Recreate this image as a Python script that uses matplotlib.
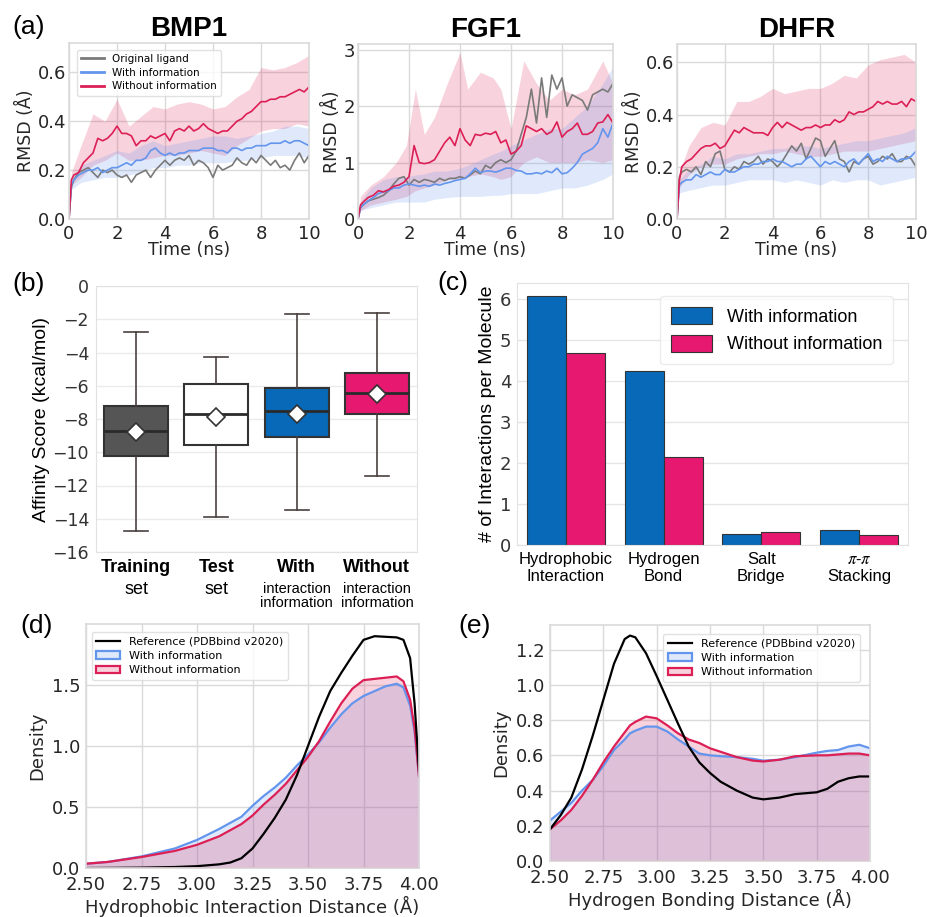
import numpy as np
import matplotlib.pyplot as plt
from matplotlib.patches import Patch
from matplotlib.lines import Line2D

plt.rcParams['mathtext.fontset'] = 'stix'

# ---------------- (a) RMSD trajectories ----------------
t_line = [0.0, 0.1, 0.2, 0.4, 0.6, 0.8, 1.0, 1.2, 1.4, 1.6, 1.8, 2.0, 2.2, 2.4, 2.6, 2.8,
          3.0, 3.2, 3.4, 3.6, 3.8, 4.0, 4.2, 4.4, 4.6, 4.8, 5.0, 5.2, 5.4, 5.6, 5.8, 6.0,
          6.2, 6.4, 6.6, 6.8, 7.0, 7.2, 7.4, 7.6, 7.8, 8.0, 8.2, 8.4, 8.6, 8.8, 9.0, 9.2,
          9.4, 9.6, 9.8, 10.0]
t_band = [0.0, 0.1, 0.5, 1.0, 1.5, 2.0, 2.5, 3.0, 3.5, 4.0, 4.5, 5.0, 5.5, 6.0, 6.5, 7.0,
          7.5, 8.0, 8.5, 9.0, 9.5, 10.0]
t_band_fgf = [0.0, 0.1, 0.5, 1.0, 1.5, 1.9, 2.25, 2.6, 3.0, 3.5, 4.0, 4.3, 4.8, 5.3, 5.6,
              6.0, 6.5, 7.0, 7.5, 8.0, 8.5, 9.0, 9.6, 10.0]

bmp1_orig = [0.0, 0.13, 0.16, 0.19, 0.20, 0.21, 0.19, 0.17, 0.20, 0.19,
             0.20, 0.18, 0.17, 0.18, 0.15, 0.18, 0.19, 0.20, 0.17, 0.20,
             0.22, 0.24, 0.22, 0.24, 0.25, 0.24, 0.26, 0.22, 0.24, 0.23,
             0.21, 0.17, 0.22, 0.20, 0.21, 0.22, 0.25, 0.23, 0.22, 0.25,
             0.23, 0.26, 0.24, 0.22, 0.24, 0.21, 0.22, 0.20, 0.24, 0.27,
             0.23, 0.26]
bmp1_with = [0.0, 0.14, 0.16, 0.18, 0.19, 0.20, 0.20, 0.21, 0.19, 0.20,
             0.21, 0.21, 0.22, 0.23, 0.22, 0.24, 0.24, 0.25, 0.28, 0.29,
             0.27, 0.26, 0.27, 0.26, 0.27, 0.27, 0.28, 0.28, 0.28, 0.29,
             0.29, 0.29, 0.28, 0.28, 0.27, 0.29, 0.29, 0.28, 0.29, 0.29,
             0.30, 0.30, 0.30, 0.31, 0.31, 0.31, 0.32, 0.31, 0.32, 0.32,
             0.31, 0.30]
bmp1_without = [0.0, 0.16, 0.18, 0.19, 0.23, 0.25, 0.27, 0.33, 0.32, 0.33,
                0.35, 0.38, 0.35, 0.35, 0.34, 0.30, 0.32, 0.32, 0.34, 0.33,
                0.34, 0.35, 0.32, 0.36, 0.37, 0.36, 0.38, 0.36, 0.37, 0.39,
                0.37, 0.36, 0.35, 0.36, 0.36, 0.38, 0.40, 0.41, 0.43, 0.44,
                0.46, 0.48, 0.48, 0.49, 0.49, 0.50, 0.50, 0.51, 0.52, 0.53,
                0.52, 0.54]
bmp1_with_lo = [0.0, 0.12, 0.15, 0.16, 0.17, 0.17, 0.18, 0.19, 0.21, 0.21, 0.22,
                0.22, 0.23, 0.23, 0.23, 0.24, 0.24, 0.25, 0.26, 0.26, 0.26, 0.25]
bmp1_with_hi = [0.0, 0.16, 0.22, 0.24, 0.26, 0.28, 0.27, 0.30, 0.32, 0.30, 0.31,
                0.32, 0.33, 0.34, 0.34, 0.33, 0.34, 0.35, 0.36, 0.38, 0.38, 0.37]
bmp1_without_lo = [0.0, 0.14, 0.17, 0.22, 0.24, 0.27, 0.24, 0.24, 0.25, 0.26, 0.26,
                   0.27, 0.28, 0.27, 0.26, 0.30, 0.33, 0.36, 0.37, 0.37, 0.39, 0.38]
bmp1_without_hi = [0.0, 0.19, 0.30, 0.43, 0.40, 0.49, 0.38, 0.42, 0.46, 0.45, 0.47,
                   0.48, 0.47, 0.45, 0.46, 0.50, 0.53, 0.62, 0.61, 0.62, 0.64, 0.67]

fgf1_orig = [0.0, 0.20, 0.25, 0.32, 0.35, 0.38, 0.42, 0.50, 0.62, 0.72,
             0.75, 0.60, 0.70, 0.65, 0.70, 0.68, 0.65, 0.72, 0.68, 0.72,
             0.72, 0.75, 0.72, 0.78, 0.85, 0.80, 0.95, 0.90, 1.00, 1.05,
             1.00, 1.05, 1.20, 1.50, 1.80, 2.30, 1.70, 2.50, 1.80, 2.55,
             2.30, 2.50, 2.00, 2.20, 2.15, 2.10, 1.93, 2.20, 2.25, 2.30,
             2.25, 2.40]
fgf1_with = [0.0, 0.20, 0.25, 0.32, 0.38, 0.45, 0.48, 0.50, 0.55, 0.55,
             0.60, 0.62, 0.60, 0.58, 0.60, 0.58, 0.62, 0.60, 0.63, 0.65,
             0.68, 0.70, 0.72, 0.80, 0.90, 0.82, 0.85, 0.85, 0.83, 0.86,
             0.90, 0.90, 0.86, 0.85, 0.80, 0.80, 0.82, 0.80, 0.85, 0.82,
             0.90, 0.80, 0.82, 0.90, 1.00, 1.15, 1.20, 1.25, 1.35, 1.60,
             1.45, 1.70]
fgf1_without = [0.0, 0.25, 0.30, 0.38, 0.42, 0.50, 0.48, 0.52, 0.58, 0.60,
                0.65, 0.75, 1.30, 1.00, 0.98, 1.00, 1.05, 1.20, 1.35, 1.45,
                1.30, 1.60, 1.40, 1.30, 1.50, 1.48, 1.52, 1.50, 1.55, 1.35,
                1.40, 1.15, 1.20, 1.30, 1.65, 1.60, 1.55, 1.60, 1.50, 1.55,
                1.72, 1.45, 1.55, 1.60, 1.70, 1.50, 1.50, 1.55, 1.70, 1.72,
                1.85, 1.70]
fgf1_with_lo = [0.0, 0.15, 0.20, 0.25, 0.30, 0.30, 0.30, 0.30, 0.35, 0.38, 0.40, 0.40,
                0.40, 0.42, 0.42, 0.45, 0.45, 0.45, 0.50, 0.55, 0.55, 0.60, 0.70, 0.80]
fgf1_with_hi = [0.0, 0.30, 0.55, 0.70, 0.75, 0.75, 0.78, 0.80, 0.85, 0.85, 0.90, 0.95,
                1.05, 1.15, 1.20, 1.30, 1.40, 1.50, 1.60, 1.60, 1.80, 2.00, 2.40, 2.70]
fgf1_without_lo = [0.0, 0.15, 0.25, 0.30, 0.35, 0.40, 0.50, 0.55, 0.60, 0.70, 0.70, 0.75,
                   0.80, 0.75, 0.70, 0.75, 1.00, 1.10, 1.00, 1.00, 1.00, 1.05, 1.00, 1.05]
fgf1_without_hi = [0.0, 0.40, 0.60, 0.75, 1.00, 1.30, 2.30, 1.50, 1.80, 2.40, 2.95, 2.30,
                   2.60, 2.50, 2.30, 1.60, 2.80, 2.40, 2.10, 2.30, 2.20, 2.30, 2.80, 2.40]

dhfr_orig = [0.0, 0.16, 0.18, 0.19, 0.18, 0.20, 0.17, 0.22, 0.20, 0.25,
             0.26, 0.19, 0.18, 0.20, 0.19, 0.22, 0.21, 0.22, 0.24, 0.21,
             0.23, 0.22, 0.20, 0.22, 0.25, 0.28, 0.26, 0.29, 0.23, 0.27,
             0.31, 0.30, 0.24, 0.27, 0.30, 0.23, 0.22, 0.18, 0.22, 0.21,
             0.23, 0.24, 0.21, 0.22, 0.24, 0.23, 0.25, 0.22, 0.22, 0.24,
             0.23, 0.20]
dhfr_with = [0.0, 0.13, 0.14, 0.15, 0.15, 0.17, 0.16, 0.17, 0.18, 0.17,
             0.17, 0.19, 0.18, 0.18, 0.19, 0.20, 0.20, 0.21, 0.21, 0.22,
             0.22, 0.23, 0.22, 0.22, 0.21, 0.20, 0.21, 0.21, 0.23, 0.24,
             0.22, 0.20, 0.22, 0.21, 0.22, 0.21, 0.20, 0.22, 0.23, 0.21,
             0.23, 0.25, 0.22, 0.23, 0.22, 0.24, 0.23, 0.22, 0.23, 0.23,
             0.24, 0.26]
dhfr_without = [0.0, 0.15, 0.20, 0.22, 0.23, 0.25, 0.27, 0.28, 0.28, 0.29,
                0.27, 0.28, 0.31, 0.34, 0.33, 0.35, 0.34, 0.33, 0.33, 0.33,
                0.32, 0.35, 0.37, 0.35, 0.37, 0.36, 0.35, 0.34, 0.35, 0.35,
                0.36, 0.35, 0.36, 0.36, 0.38, 0.37, 0.38, 0.41, 0.40, 0.41,
                0.41, 0.42, 0.43, 0.45, 0.44, 0.45, 0.44, 0.44, 0.45, 0.43,
                0.46, 0.45]
dhfr_with_lo = [0.0, 0.10, 0.11, 0.12, 0.13, 0.13, 0.14, 0.15, 0.15, 0.15, 0.14,
                0.15, 0.14, 0.13, 0.15, 0.14, 0.15, 0.15, 0.13, 0.14, 0.15, 0.16]
dhfr_with_hi = [0.0, 0.15, 0.19, 0.21, 0.24, 0.23, 0.25, 0.25, 0.26, 0.27, 0.27,
                0.28, 0.28, 0.27, 0.28, 0.29, 0.30, 0.30, 0.31, 0.32, 0.33, 0.35]
dhfr_without_lo = [0.0, 0.12, 0.17, 0.20, 0.21, 0.21, 0.23, 0.24, 0.25, 0.25, 0.26,
                   0.25, 0.24, 0.24, 0.25, 0.26, 0.26, 0.26, 0.27, 0.28, 0.29, 0.30]
dhfr_without_hi = [0.0, 0.18, 0.28, 0.35, 0.37, 0.36, 0.45, 0.45, 0.47, 0.50, 0.48,
                   0.49, 0.50, 0.50, 0.52, 0.55, 0.54, 0.59, 0.61, 0.62, 0.63, 0.60]

# ---------------- (b) affinity score box stats ----------------
box_groups = ['Training', 'Test', 'With', 'Without']
box_sub = ['set', 'set', 'interaction\ninformation', 'interaction\ninformation']
box_q1 = [-10.24, -9.54, -9.06, -7.72]
box_med = [-8.74, -7.68, -7.54, -6.43]
box_q3 = [-7.23, -5.87, -6.11, -5.23]
box_lo = [-14.75, -13.91, -13.49, -11.44]
box_hi = [-2.79, -4.27, -1.68, -1.60]
box_mean = [-8.78, -7.88, -7.68, -6.51]

# ---------------- (c) interactions per molecule ----------------
inter_types = ['Hydrophobic\nInteraction', 'Hydrogen\nBond', 'Salt\nBridge', '$\\pi$-$\\pi$\nStacking']
inter_with = [6.08, 4.25, 0.28, 0.37]
inter_without = [4.70, 2.15, 0.31, 0.24]

# ---------------- (d) hydrophobic distance density ----------------
hyd_x = [2.5, 2.6, 2.75, 2.9, 3.0, 3.1, 3.15, 3.2, 3.25, 3.3, 3.35, 3.4, 3.45, 3.5,
         3.55, 3.6, 3.65, 3.7, 3.75, 3.8, 3.85, 3.9, 3.93, 3.96, 3.98, 4.0]
hyd_ref = [0.0, 0.001, 0.003, 0.008, 0.015, 0.03, 0.045, 0.08, 0.16, 0.28, 0.41, 0.56,
           0.76, 1.0, 1.24, 1.45, 1.6, 1.74, 1.87, 1.90, 1.895, 1.89, 1.87, 1.72, 1.35, 0.8]
hyd_with = [0.035, 0.05, 0.095, 0.16, 0.23, 0.32, 0.37, 0.42, 0.51, 0.59, 0.66, 0.74,
            0.84, 0.93, 1.03, 1.15, 1.26, 1.35, 1.41, 1.45, 1.49, 1.51, 1.48, 1.33, 1.12, 0.75]
hyd_without = [0.035, 0.05, 0.09, 0.14, 0.19, 0.26, 0.31, 0.36, 0.43, 0.52, 0.60, 0.69,
               0.80, 0.91, 1.04, 1.20, 1.35, 1.47, 1.54, 1.55, 1.56, 1.57, 1.53, 1.38, 1.15, 0.75]

# ---------------- (e) hydrogen bond distance density ----------------
hb_x = [2.5, 2.55, 2.6, 2.65, 2.7, 2.75, 2.8, 2.85, 2.875, 2.9, 2.95, 3.0, 3.05, 3.1,
        3.15, 3.2, 3.25, 3.3, 3.375, 3.45, 3.5, 3.575, 3.65, 3.75, 3.8, 3.85, 3.9, 3.95, 4.0]
hb_ref = [0.18, 0.26, 0.36, 0.52, 0.71, 0.915, 1.12, 1.26, 1.28, 1.27, 1.18, 1.05, 0.915,
          0.78, 0.65, 0.56, 0.50, 0.45, 0.40, 0.36, 0.35, 0.36, 0.38, 0.39, 0.41, 0.45,
          0.47, 0.48, 0.48]
hb_with = [0.23, 0.28, 0.33, 0.40, 0.46, 0.54, 0.63, 0.69, 0.725, 0.74, 0.763, 0.763,
           0.735, 0.69, 0.65, 0.61, 0.60, 0.595, 0.59, 0.58, 0.57, 0.575, 0.59, 0.615,
           0.625, 0.63, 0.65, 0.66, 0.64]
hb_without = [0.18, 0.23, 0.29, 0.37, 0.46, 0.56, 0.65, 0.73, 0.77, 0.79, 0.82, 0.81,
              0.77, 0.725, 0.69, 0.67, 0.64, 0.62, 0.59, 0.57, 0.565, 0.575, 0.595, 0.60,
              0.60, 0.605, 0.61, 0.61, 0.60]

# colours
c_gray = '#7a7a7a'
c_blue = '#6495ed'
c_red = '#dc1f55'
c_box = ['#555555', 'white', '#0769b7', '#e6186f']
c_bar_with = '#0769b7'
c_bar_without = '#e6186f'
grid_c = '#dadada'
txt_c = '#262626'
arial = 'Liberation Sans'

W, H = 927, 917
fig = plt.figure(figsize=(W / 100, H / 100), dpi=100)


def px_axes(l, t, r, b):
    return fig.add_axes([l / W, 1 - b / H, (r - l) / W, (b - t) / H])


def sns_style(ax, tick_size):
    ax.set_facecolor('white')
    ax.grid(True, color=grid_c, lw=1)
    ax.set_axisbelow(True)
    for s in ax.spines.values():
        s.set_color(grid_c)
        s.set_linewidth(1.2)
    ax.tick_params(length=0, labelsize=tick_size, labelcolor=txt_c, pad=4)


def rmsd_panel(ax, tb, orig, wi, wo, wlo, whi, olo, ohi, ymax, yticks, ylabels, title):
    ax.fill_between(tb, olo, ohi, color=c_red, alpha=0.2, lw=0)
    ax.fill_between(tb, wlo, whi, color=c_blue, alpha=0.2, lw=0)
    ax.plot(t_line, orig, color=c_gray, lw=1.2, label='Original ligand')
    ax.plot(t_line, wi, color=c_blue, lw=1.2, label='With information')
    ax.plot(t_line, wo, color=c_red, lw=1.2, label='Without information')
    ax.set_xlim(0, 10)
    ax.set_ylim(0, ymax)
    ax.set_xticks([0, 2, 4, 6, 8, 10])
    ax.set_yticks(yticks)
    ax.set_yticklabels(ylabels)
    sns_style(ax, 13)
    ax.tick_params(axis='y', pad=2)
    ax.tick_params(axis='x', pad=4)
    ax.set_xlabel('Time (ns)', fontsize=12.5, color=txt_c, labelpad=-1)
    ax.set_ylabel('RMSD (Å)', fontsize=12.5, color=txt_c, labelpad=2)
    ax.set_title(title, fontsize=20, fontweight='bold', family=arial, pad=5)


ax1 = px_axes(69, 43, 309, 219)
rmsd_panel(ax1, t_band, bmp1_orig, bmp1_with, bmp1_without, bmp1_with_lo, bmp1_with_hi,
           bmp1_without_lo, bmp1_without_hi, 0.72, [0, 0.2, 0.4, 0.6],
           ['0.0', '0.2', '0.4', '0.6'], 'BMP1')
leg = ax1.legend(loc='upper left', fontsize=7.5, frameon=True, handlelength=2.2,
                 borderpad=0.4, labelspacing=0.35, bbox_to_anchor=(0.01, 0.99))
leg.get_frame().set_edgecolor(grid_c)
for lh in leg.get_lines():
    lh.set_linewidth(2)

ax2 = px_axes(358, 44, 613, 219)
rmsd_panel(ax2, t_band_fgf, fgf1_orig, fgf1_with, fgf1_without, fgf1_with_lo, fgf1_with_hi,
           fgf1_without_lo, fgf1_without_hi, 3.1, [0, 1, 2, 3], ['0', '1', '2', '3'], 'FGF1')

ax3 = px_axes(677, 44, 916, 219)
rmsd_panel(ax3, t_band, dhfr_orig, dhfr_with, dhfr_without, dhfr_with_lo, dhfr_with_hi,
           dhfr_without_lo, dhfr_without_hi, 0.67, [0, 0.2, 0.4, 0.6],
           ['0.0', '0.2', '0.4', '0.6'], 'DHFR')

# ---------------- (b) ----------------
axb = px_axes(96, 286, 417, 552)
stats = []
for i in range(4):
    stats.append(dict(med=box_med[i], q1=box_q1[i], q3=box_q3[i], whislo=box_lo[i],
                      whishi=box_hi[i], mean=box_mean[i], fliers=[]))
bp = axb.bxp(stats, positions=range(4), widths=0.8, capwidths=0.3, patch_artist=True,
             showmeans=True,
             boxprops=dict(edgecolor='#333333', linewidth=1.5),
             medianprops=dict(color='#2a2a2a', linewidth=2),
             whiskerprops=dict(color='#4a3f3f', linewidth=1.2),
             capprops=dict(color='#4a3f3f', linewidth=1.2),
             meanprops=dict(marker='D', markerfacecolor='white', markeredgecolor='#333333',
                            markersize=9, markeredgewidth=1.2))
for patch, col in zip(bp['boxes'], c_box):
    patch.set_facecolor(col)
axb.set_xlim(-0.5, 3.5)
axb.set_ylim(-16, 0)
axb.set_yticks(range(-16, 1, 2))
axb.set_xticks([])
axb.grid(True, axis='y', color='#ebebeb', lw=1)
axb.set_axisbelow(True)
for s in axb.spines.values():
    s.set_color('#e2e2e2')
axb.tick_params(length=0, labelsize=12.5, labelcolor='#333333', pad=5)
axb.set_ylabel('Affinity Score (kcal/mol)', fontsize=14, family=arial, labelpad=2)
xt = axb.get_xaxis_transform()
for i in range(4):
    axb.text(i, -0.06, box_groups[i], transform=xt, ha='center', va='center',
             fontsize=13, fontweight='bold', family=arial)
    if i < 2:
        axb.text(i, -0.14, box_sub[i], transform=xt, ha='center', va='center',
                 fontsize=13, family=arial)
    else:
        axb.text(i, -0.165, box_sub[i], transform=xt, ha='center', va='center',
                 fontsize=10.5, family=arial, linespacing=1.0)

# ---------------- (c) ----------------
axc = px_axes(517, 283, 908, 545)
xc = np.arange(len(inter_types))
axc.bar(xc - 0.2, inter_with, width=0.4, color=c_bar_with, edgecolor='#333333',
        lw=0.8, label='With information')
axc.bar(xc + 0.2, inter_without, width=0.4, color=c_bar_without, edgecolor='#333333',
        lw=0.8, label='Without information')
axc.set_xlim(-0.5, 3.5)
axc.set_ylim(0, 6.4)
axc.set_yticks(range(0, 7))
axc.set_xticks(xc)
axc.set_xticklabels(inter_types, fontsize=12, family=arial)
axc.grid(True, axis='y', color='#e6e6e6', lw=1)
axc.set_axisbelow(True)
for s in axc.spines.values():
    s.set_color('#e2e2e2')
axc.tick_params(axis='y', length=0, labelsize=13, labelcolor='#333333', pad=4)
axc.tick_params(axis='x', length=0, pad=5)
axc.set_ylabel('# of Interactions per Molecule', fontsize=14, family=arial, labelpad=3)
legc = axc.legend(loc='upper right', prop={'family': arial, 'size': 13},
                  handlelength=2.3, handleheight=1.1, borderpad=0.6, labelspacing=0.5,
                  bbox_to_anchor=(0.985, 0.985), fancybox=True)
legc.get_frame().set_edgecolor('#e6e6e6')


# ---------------- (d), (e) ----------------
def density_panel(ax, x, ref, wi, wo, ymax, yticks, ylabels, xlabel):
    ax.fill_between(x, wi, color=c_blue, alpha=0.2, lw=0)
    ax.fill_between(x, wo, color=c_red, alpha=0.2, lw=0)
    ax.plot(x, wi, color=c_blue, lw=1.6)
    ax.plot(x, wo, color=c_red, lw=1.6)
    ax.plot(x, ref, color='black', lw=1.6)
    ax.axhline(0, color=c_red, lw=1.2, alpha=0.6)
    ax.set_xlim(2.5, 4.0)
    ax.set_ylim(0, ymax)
    ax.set_xticks([2.5, 2.75, 3.0, 3.25, 3.5, 3.75, 4.0])
    ax.set_xticklabels(['2.50', '2.75', '3.00', '3.25', '3.50', '3.75', '4.00'])
    ax.set_yticks(yticks)
    ax.set_yticklabels(ylabels)
    sns_style(ax, 13)
    ax.tick_params(axis='x', pad=6)
    ax.set_xlabel(xlabel, fontsize=13, color=txt_c, labelpad=1)
    ax.set_ylabel('Density', fontsize=13, color=txt_c, labelpad=4)
    handles = [Line2D([], [], color='black', lw=1.6),
               Patch(facecolor=(0.39, 0.58, 0.93, 0.2), edgecolor=c_blue, lw=1.6),
               Patch(facecolor=(0.86, 0.12, 0.33, 0.2), edgecolor=c_red, lw=1.6)]
    labels = ['Reference (PDBbind v2020)', 'With information', 'Without information']
    return handles, labels


axd = px_axes(86, 624, 419, 868)
hd, ld = density_panel(axd, hyd_x, hyd_ref, hyd_with, hyd_without, 2.0,
                       [0.0, 0.5, 1.0, 1.5], ['0.0', '0.5', '1.0', '1.5'],
                       'Hydrophobic Interaction Distance (Å)')
legd = axd.legend(hd, ld, loc='upper left', fontsize=8, bbox_to_anchor=(0.0, 0.99),
                  borderpad=0.4, labelspacing=0.4, handlelength=2.2)
legd.get_frame().set_edgecolor(grid_c)

axe = px_axes(550, 625, 870, 861)
he, le = density_panel(axe, hb_x, hb_ref, hb_with, hb_without, 1.34,
                       [0.0, 0.2, 0.4, 0.6, 0.8, 1.0, 1.2],
                       ['0.0', '0.2', '0.4', '0.6', '0.8', '1.0', '1.2'],
                       'Hydrogen Bonding Distance (Å)')
lege = axe.legend(he, le, loc='upper right', fontsize=8, bbox_to_anchor=(0.985, 0.985),
                  borderpad=0.4, labelspacing=0.4, handlelength=2.2)
lege.get_frame().set_edgecolor(grid_c)

# panel letters
for lab, x, y in [('(a)', 12, 27), ('(b)', 12, 284), ('(c)', 437, 283),
                  ('(d)', 20, 626), ('(e)', 458, 626)]:
    fig.text(x / W, 1 - y / H, lab, fontsize=19, family=arial, va='center', ha='left')

fig.savefig('out.png', dpi=100)
